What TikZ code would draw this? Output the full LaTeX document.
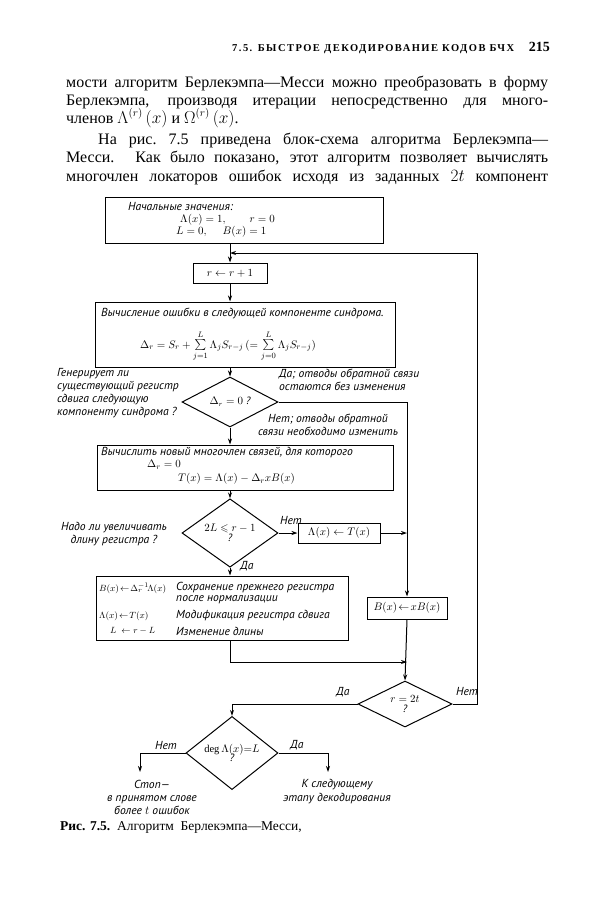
\documentclass[tikz,border=0pt]{standalone}
\usepackage{amsmath,amssymb}
\usepackage{fontspec}
\setmainfont{Liberation Serif}
\newfontfamily\hand{PT Sans}
\usetikzlibrary{arrows.meta,shapes.geometric}
\tikzset{
  box/.style={draw, line width=1pt, rectangle, inner sep=0pt},
  dia/.style={draw, line width=1pt, diamond, inner sep=0pt, align=center,
    font=\hand\itshape\fontsize{10.5}{10.5}\selectfont},
  arr/.style={line width=1pt, -{Stealth[length=6pt,width=4pt]}},
  lbl/.style={font=\hand\itshape\fontsize{11.6}{12.5}\selectfont, inner sep=0pt, align=left},
  mth/.style={font=\fontsize{11}{12}\selectfont, inner sep=0pt, align=left},
  body/.style={font=\fontsize{16}{18}\selectfont, inner sep=0pt, anchor=base west},
}
\begin{document}
\begin{tikzpicture}[x=1pt,y=-1pt]
\useasboundingbox (0,0) rectangle (612,900);
% header and body text
\node[inner sep=0pt, anchor=base west, font=\bfseries\fontsize{10.5}{11}\selectfont\addfontfeatures{LetterSpace=14}] (hdr) at (232,51) {7.5. БЫСТРОЕ ДЕКОДИРОВАНИЕ КОДОВ БЧХ};
\node[inner sep=0pt, anchor=base east, font=\bfseries\fontsize{14}{14}\selectfont] (pg) at (550,51) {215};
\node[body] (l1) at (66,87) {\makebox[482pt][s]{мости алгоритм Берлекэмпа—Месси можно преобразовать в форму}};
\node[body] (l2) at (66,105) {\makebox[482pt][s]{Берлекэмпа, производя итерации непосредственно для много-}};
\node[body] (l3) at (66,123) {членов $\Lambda^{(r)}\,(x)$ и $\Omega^{(r)}\,(x)$.};
\node[body] (l4) at (98,144) {\makebox[450pt][s]{На рис.~7.5 приведена блок-схема алгоритма Берлекэмпа—}};
\node[body] (l5) at (66,162) {\makebox[482pt][s]{Месси. Как было показано, этот алгоритм позволяет вычислять}};
\node[body] (l6) at (66,181) {\makebox[482pt][s]{многочлен локаторов ошибок исходя из заданных $2t$ компонент}};
\node[inner sep=0pt, anchor=base west, font=\fontsize{13.5}{14}\selectfont] (cap) at (60,830) {\textbf{Рис. 7.5.}\ \ Алгоритм\ \ Берлекэмпа—Месси,};

% boxes
\node[box, minimum width=278pt, minimum height=46pt] (start) at (244,220) {};
\node[lbl, anchor=west] (t1a) at (128,207) {Начальные значения:};
\node[mth, anchor=west] (t1b) at (180,220) {$\Lambda(x)=1,\qquad r=0$};
\node[mth, anchor=west] (t1c) at (176,232) {$L=0,\quad\; B(x)=1$};

\node[box, minimum width=74pt, minimum height=20pt, font=\fontsize{11}{11}\selectfont] (rb) at (230,273) {$r\leftarrow r+1$};

\node[box, minimum width=300pt, minimum height=65pt] (err) at (245,334.5) {};
\node[lbl, anchor=west] (t2a) at (101,313) {Вычисление ошибки в следующей компоненте синдрома.};
\node[mth] (t2b) at (228,346) {$\Delta_r=S_r+\sum\limits_{j=1}^{L}\Lambda_jS_{r-j}\,(=\sum\limits_{j=0}^{L}\Lambda_jS_{r-j})$};

\node[dia, minimum width=96pt, minimum height=50pt] (d1) at (230,402) {$\Delta_r=0$ ?};

\node[box, minimum width=296pt, minimum height=45pt] (nb) at (245,467.5) {};
\node[lbl, anchor=west] (t3a) at (101,453) {Вычислить новый многочлен связей, для которого};
\node[mth, anchor=west] (t3b) at (147,465) {$\Delta_r=0$};
\node[mth, anchor=west] (t3c) at (178,479) {$T(x)=\Lambda(x)-\Delta_r xB(x)$};

\node[dia, minimum width=96pt, minimum height=50pt] (d2) at (230,533) {$2L\leqslant r-1$\\[-1pt]?};
\node[box, minimum width=82pt, minimum height=20pt, font=\fontsize{11}{11}\selectfont] (lt) at (339,533) {$\Lambda(x)\leftarrow T(x)$};

\node[box, minimum width=252pt, minimum height=64pt] (big) at (222,608) {};
\node[mth, anchor=west, font=\fontsize{9.5}{10}\selectfont] (t4a) at (99,588) {$B(x)\!\leftarrow\!\Delta_r^{-1}\!\Lambda(x)$};
\node[mth, anchor=west, font=\fontsize{9.5}{10}\selectfont] (t4b) at (99,616) {$\Lambda(x)\!\leftarrow\! T(x)$};
\node[mth, anchor=west, font=\fontsize{9.5}{10}\selectfont] (t4c) at (110,631) {$L\ \leftarrow r-L$};
\node[lbl, anchor=west] (t4d) at (176,588) {Сохранение прежнего регистра};
\node[lbl, anchor=west] (t4e) at (176,600) {после нормализации};
\node[lbl, anchor=west] (t4f) at (176,616) {Модификация регистра сдвига};
\node[lbl, anchor=west] (t4g) at (176,631) {Изменение длины};

\node[box, minimum width=80pt, minimum height=22pt, font=\fontsize{11}{11}\selectfont] (bb) at (407,608) {$B(x)\!\leftarrow\! xB(x)$};

\node[dia, minimum width=94pt, minimum height=46pt] (d3) at (405,704) {$r=2t$\\[-1pt]?};
\node[dia, minimum width=92pt, minimum height=50pt] (d4) at (232,753) {$\deg\Lambda(x){=}L$\\[-1pt]?};

% side texts
\node[lbl, anchor=north west, font=\hand\itshape\fontsize{11.6}{13}\selectfont] (q1) at (57,368) {Генерирует ли\\существующий регистр\\сдвига следующую\\компоненту синдрома ?};
\node[lbl, anchor=north west, font=\hand\itshape\fontsize{11.6}{12.5}\selectfont] (q2) at (279,369) {Да; отводы обратной связи\\остаются без изменения};
\node[lbl, align=center, font=\hand\itshape\fontsize{11.6}{12.5}\selectfont] (q3) at (328,425) {Нет; отводы обратной\\связи необходимо изменить};
\node[lbl, align=center, font=\hand\itshape\fontsize{11.6}{13}\selectfont] (q4) at (114,534) {Надо ли увеличивать\\длину регистра ?};
\node[lbl, align=center, font=\hand\itshape\fontsize{11.6}{13}\selectfont] (stop) at (152,797) {Стоп—\\в принятом слове\\более $t$ ошибок};
\node[lbl, align=center, font=\hand\itshape\fontsize{11.6}{14}\selectfont] (next) at (337,792) {К следующему\\этапу декодирования};

% branch labels
\node[lbl] (n2) at (291,521) {Нет};
\node[lbl] (y2) at (247,566) {Да};
\node[lbl] (y3) at (343,692) {Да};
\node[lbl] (n3) at (467,692) {Нет};
\node[lbl] (n4) at (166,745) {Нет};
\node[lbl] (y4) at (297,745) {Да};

% coordinates
\coordinate (j1) at (230,662);
\coordinate (j2) at (407,662);
\coordinate (fbA) at (477,704);
\coordinate (fbB) at (477,253);
\coordinate (fbC) at (230,253);
\coordinate (stopa) at (140,772);
\coordinate (nexta) at (328,772);

% connectors
\draw[arr] (start.south -| rb.north) -- (rb.north);
\draw[arr] (rb.south) -- (rb.south |- err.north);
\draw[arr] (err.south -| d1.north) -- (d1.north);
\draw[arr] (d1.south) -- (d1.south |- nb.north);
\draw[arr] (nb.south -| d2.north) -- (d2.north);
\draw[arr] (d2.south) -- (d2.south |- big.north);
\draw[arr] (d2.east) -- (lt.west);
\draw[arr] (lt.east) -- (lt.east -| bb.north);
\draw[arr] (d1.east) -- (d1.east -| bb.north) -- (bb.north);
\draw[arr] (big.south -| j1) -- (j1) -- (j2);
\draw[arr] (bb.south) -- (d3.north);
\draw[arr] (d3.east) -- (fbA) -- (fbB) -- (fbC);
\draw[arr] (d3.west) -- (d3.west -| d4.north) -- (d4.north);
\draw[arr] (d4.west) -| (stopa);
\draw[arr] (d4.east) -| (nexta);
\end{tikzpicture}
\end{document}
